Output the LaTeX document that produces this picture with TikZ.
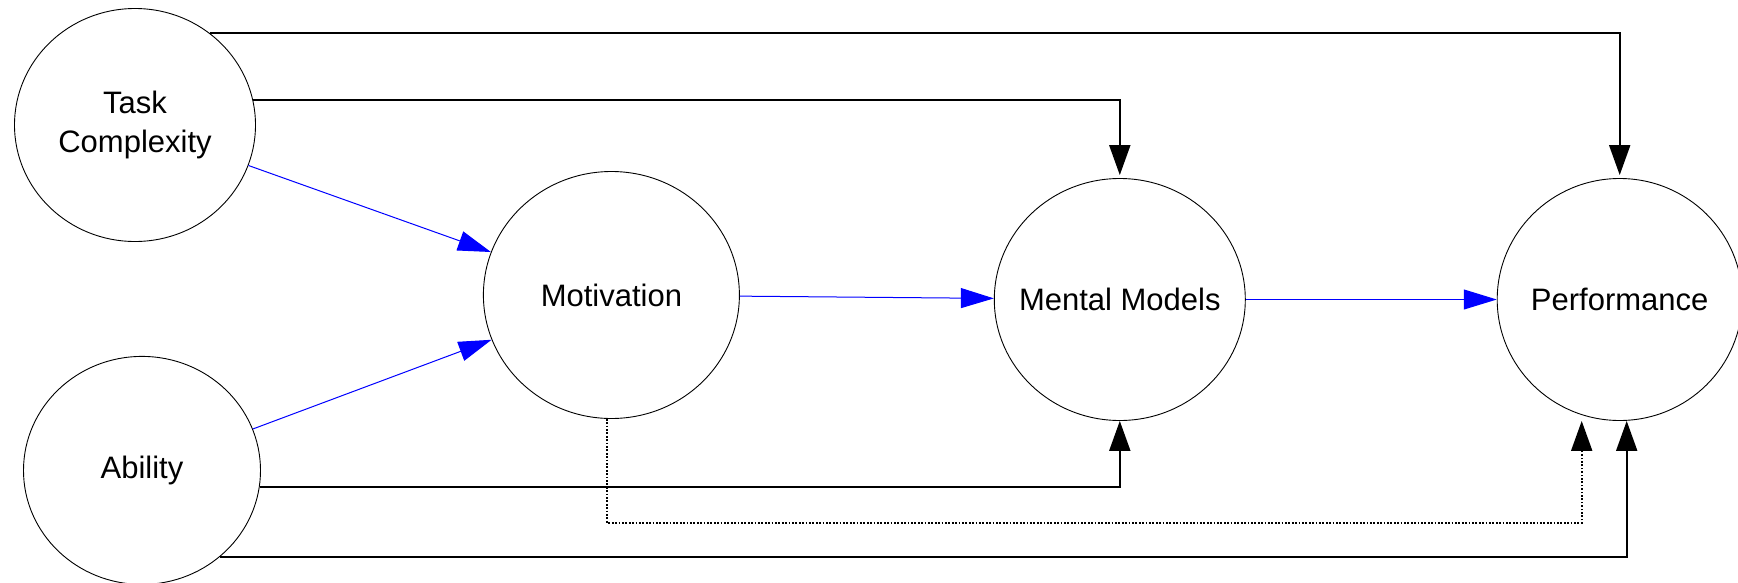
\documentclass[tikz,border=0pt]{standalone}
\usepackage{fontspec}
\setmainfont{Liberation Sans}
\usepackage{tikz}
\usetikzlibrary{positioning}
\usetikzlibrary{shapes.geometric}
\usetikzlibrary{arrows.meta}

\tikzset{
  construct/.style={draw, ellipse, line width=0.9pt, inner xsep=-50pt, inner ysep=0pt,
    align=center, font=\fontsize{31}{39}\selectfont},
  link/.style={line width=2pt, -{Triangle[length=30pt,width=21pt]}},
  dotlink/.style={link, line width=2pt, dash pattern=on 1.7pt off 1.7pt},
  effect/.style={blue, line width=1pt, -{Triangle[length=33pt,width=20pt]}}
}

\begin{document}
\begin{tikzpicture}[x=1pt, y=-1pt]

  \useasboundingbox (0,0) rectangle (1738,582);

  % Define nodes
  \node[construct, minimum width=241pt, minimum height=233pt] (task) at (135,125) {Task\\Complexity};
  \node[construct, minimum width=237pt, minimum height=228pt, below=114pt of task, xshift=7pt] (ability) {Ability};
  \node[construct, minimum width=256pt, minimum height=247pt, right=227pt of task, yshift=-170pt] (motiv) {Motivation};
  \node[construct, minimum width=251pt, minimum height=242pt, right=254pt of motiv, yshift=-4.5pt] (mental) {Mental Models};
  \node[construct, minimum width=245pt, minimum height=242pt, right=251pt of mental] (perf) {Performance};

  % Connect the nodes
  \draw[effect] (task) -- (motiv);
  \draw[effect] (ability) -- (motiv);
  \draw[effect] (motiv) -- (mental);
  \draw[effect] (mental) -- (perf);

  \draw[link, shorten >=3pt] (task.51) -| (perf.north);
  \draw[link, shorten >=3pt] (task.12) -| (mental.north);
  \draw[link] (ability.-8) -| (mental.south);
  \draw[link] (ability.-48) -| ([xshift=7pt]perf.south);
  \draw[dotlink] (motiv.-92) |- ([xshift=-38pt, yshift=-102pt]perf.south) -- ([xshift=-38pt]perf.south);

\end{tikzpicture}
\end{document}
